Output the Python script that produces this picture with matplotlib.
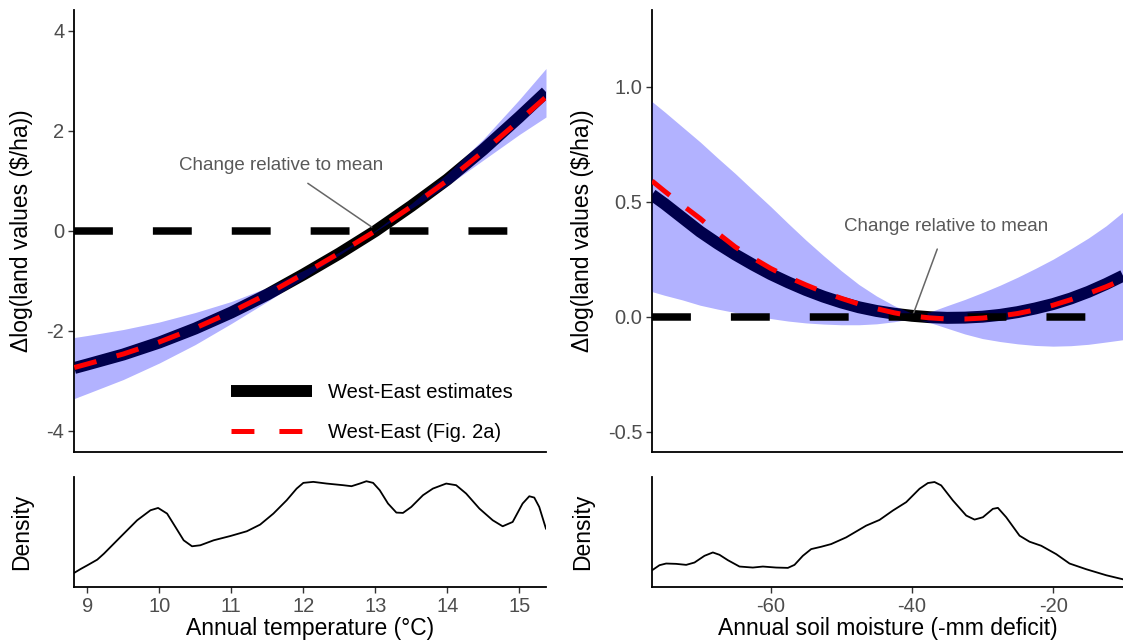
import matplotlib
matplotlib.use("Agg")
import matplotlib.pyplot as plt
from matplotlib.lines import Line2D

plt.rcParams['font.family'] = ['Liberation Sans', 'DejaVu Sans']
plt.rcParams['axes.unicode_minus'] = False
plt.rcParams['lines.scale_dashes'] = False

# ---------------- data ----------------
TEMP_X = [8.82, 9.0, 9.5, 10.0, 10.5, 11.0, 11.5, 12.0, 12.5, 13.0, 13.5, 14.0, 14.5, 15.0, 15.37]
TEMP_EST = [-2.74, -2.67, -2.47, -2.23, -1.95, -1.63, -1.27, -0.87, -0.45, 0.0, 0.5, 1.03, 1.63, 2.28, 2.78]
TEMP_FIG2A = [-2.73, -2.66, -2.46, -2.22, -1.94, -1.62, -1.26, -0.86, -0.44, 0.0, 0.49, 1.01, 1.59, 2.21, 2.68]
TEMP_CI_LO = [-3.35, -3.25, -2.97, -2.64, -2.27, -1.85, -1.41, -0.95, -0.48, -0.01, 0.45, 0.91, 1.42, 1.93, 2.28]
TEMP_CI_HI = [-2.13, -2.09, -1.97, -1.82, -1.63, -1.41, -1.13, -0.79, -0.42, 0.01, 0.55, 1.15, 1.84, 2.63, 3.25]

SOIL_X = [-76.8, -75, -72.5, -70, -67.5, -65, -62.5, -60, -57.5, -55, -52.5, -50, -47.5, -45,
          -42.5, -40, -37.5, -35, -32.5, -30, -27.5, -25, -22.5, -20, -17.5, -15, -12.5, -10.1]
SOIL_EST = [0.53, 0.49, 0.43, 0.37, 0.318, 0.27, 0.226, 0.185, 0.149, 0.116, 0.087, 0.062, 0.041, 0.025,
            0.013, 0.004, -0.002, -0.005, -0.004, 0.0, 0.008, 0.02, 0.036, 0.055, 0.079, 0.108, 0.142, 0.178]
SOIL_FIG2A = [0.59, 0.545, 0.485, 0.427, 0.363, 0.303, 0.255, 0.21, 0.172, 0.138, 0.107, 0.08, 0.055, 0.035,
              0.017, 0.003, -0.005, -0.01, -0.01, -0.006, 0.003, 0.014, 0.03, 0.05, 0.074, 0.101, 0.13, 0.162]
SOIL_CI_HI = [0.935, 0.89, 0.825, 0.76, 0.69, 0.622, 0.55, 0.479, 0.405, 0.333, 0.265, 0.2, 0.14, 0.09,
              0.048, 0.015, 0.02, 0.048, 0.075, 0.105, 0.137, 0.172, 0.21, 0.25, 0.295, 0.342, 0.395, 0.455]
SOIL_CI_LO = [0.109, 0.093, 0.073, 0.05, 0.033, 0.018, 0.003, -0.008, -0.019, -0.027, -0.032, -0.035, -0.035,
              -0.031, -0.022, -0.008, -0.025, -0.05, -0.075, -0.095, -0.108, -0.118, -0.125, -0.128, -0.126,
              -0.12, -0.11, -0.1]

TEMP_DENS_X = [8.815, 8.908, 9.0, 9.138, 9.231, 9.461, 9.692, 9.877, 9.983, 10.108, 10.223, 10.338, 10.454,
               10.569, 10.754, 10.989, 11.215, 11.4, 11.584, 11.769, 11.907, 12.0, 12.138, 12.323, 12.553,
               12.669, 12.784, 12.876, 12.969, 13.061, 13.176, 13.292, 13.384, 13.499, 13.661, 13.799,
               13.984, 14.122, 14.261, 14.445, 14.63, 14.768, 14.907, 15.045, 15.138, 15.207, 15.276, 15.369]
TEMP_DENS_Y = [0.0265, 0.0341, 0.041, 0.0517, 0.0631, 0.0947, 0.1262, 0.1451, 0.1495, 0.1388, 0.1136, 0.0883,
               0.0770, 0.0789, 0.0883, 0.0965, 0.1054, 0.118, 0.1388, 0.1641, 0.1861, 0.1969, 0.1988, 0.1956,
               0.1925, 0.1906, 0.1956, 0.2, 0.1969, 0.183, 0.1578, 0.1407, 0.1401, 0.1514, 0.1735, 0.1861,
               0.1956, 0.1925, 0.1767, 0.1483, 0.1262, 0.1148, 0.123, 0.1578, 0.1716, 0.1691, 0.1514, 0.1104]

SOIL_DENS_X = [-76.78, -75.74, -74.8, -73.38, -71.96, -70.78, -69.37, -68.18, -67.24, -66.06, -64.41, -62.52,
               -61.1, -59.22, -57.56, -56.62, -55.44, -54.26, -52.84, -51.43, -49.3, -46.47, -44.58, -42.69,
               -40.8, -38.91, -37.73, -36.79, -35.85, -34.19, -32.3, -31.12, -29.94, -28.53, -27.82, -26.64,
               -24.75, -23.33, -21.68, -19.56, -17.67, -15.31, -12.47, -10.11]
SOIL_DENS_Y = [0.0050, 0.0065, 0.0070, 0.0069, 0.0066, 0.0073, 0.0093, 0.0103, 0.0096, 0.0080, 0.0061, 0.0058,
               0.0061, 0.0058, 0.0057, 0.0066, 0.0093, 0.0113, 0.0120, 0.0128, 0.0148, 0.0183, 0.0200, 0.0228,
               0.0253, 0.0293, 0.0310, 0.0313, 0.0303, 0.0258, 0.0213, 0.0201, 0.0208, 0.0233, 0.0236, 0.0208,
               0.0153, 0.0135, 0.0123, 0.0098, 0.0070, 0.0053, 0.0035, 0.0023]

TEMP_TICKS = [9, 10, 11, 12, 13, 14, 15]
SOIL_TICKS = [-60, -40, -20]
TEMP_YTICKS = [-4, -2, 0, 2, 4]
SOIL_YTICKS = [-0.5, 0.0, 0.5, 1.0]
SOIL_YTICKLABELS = ['-0.5', '0.0', '0.5', '1.0']

YLAB = 'Δlog(land values (\\$/ha))'
ANNOT = 'Change relative to mean'

# ---------------- layout ----------------
W, H = 1123, 640
fig = plt.figure(figsize=(W / 100, H / 100), dpi=100)


def px_axes(x0, y0, x1, y1):
    return fig.add_axes([x0 / W, 1 - y1 / H, (x1 - x0) / W, (y1 - y0) / H])


ax1 = px_axes(74, 10, 546, 452)
ax2 = px_axes(652, 10, 1123, 452)
ax3 = px_axes(74, 477, 546, 587)
ax4 = px_axes(652, 477, 1123, 587)

TICKC = '#4D4D4D'
BLUE = (0.0, 0.0, 1.0, 0.3)


def style(ax):
    for s in ['top', 'right']:
        ax.spines[s].set_visible(False)
    for s in ['left', 'bottom']:
        ax.spines[s].set_linewidth(1.3)
        ax.spines[s].set_color('black')
    ax.tick_params(axis='both', length=4, width=1.0, color='#333333',
                   labelcolor=TICKC, labelsize=14.5, pad=3)
    ax.set_facecolor('none')


for ax in (ax1, ax2, ax3, ax4):
    style(ax)


def main_panel(ax, x, est, fig2a, lo, hi):
    ax.plot(x, est, color='black', lw=8.6, solid_capstyle='butt', zorder=2)
    ax.fill_between(x, lo, hi, color=BLUE, lw=0, zorder=3)
    ax.axhline(0, color='black', lw=5.4, dashes=(28, 28.8), dash_capstyle='butt', zorder=4)
    ax.plot(x, fig2a, color='red', lw=3.6, dashes=(16.5, 15), dash_capstyle='butt', zorder=5)
    ax.set_xticks([])
    ax.tick_params(axis='x', length=0)


main_panel(ax1, TEMP_X, TEMP_EST, TEMP_FIG2A, TEMP_CI_LO, TEMP_CI_HI)
main_panel(ax2, SOIL_X, SOIL_EST, SOIL_FIG2A, SOIL_CI_LO, SOIL_CI_HI)

ax1.set_xlim(8.815, 15.37)
ax1.set_ylim(-4.42, 4.42)
ax1.set_yticks(TEMP_YTICKS)
ax1.set_yticklabels([str(v) for v in TEMP_YTICKS])

ax2.set_xlim(-76.8, -10.1)
ax2.set_ylim(-0.588, 1.333)
ax2.set_yticks(SOIL_YTICKS)
ax2.set_yticklabels(SOIL_YTICKLABELS)

for ax, lx in ((ax1, -0.087), (ax2, -0.123)):
    ax.set_ylabel(YLAB, fontsize=16.5)
    ax.yaxis.set_label_coords(lx, 0.5)

# annotations
ax1.annotate(ANNOT, xy=(12.95, 0.08), xytext=(11.69, 1.32), ha='center', va='center',
             fontsize=13.5, color='#595959',
             arrowprops=dict(arrowstyle='-', color='#666666', lw=1.1, shrinkA=9, shrinkB=0))
ax2.annotate(ANNOT, xy=(-39.86, 0.007), xytext=(-35.2, 0.394), ha='center', va='center',
             fontsize=13.5, color='#595959',
             arrowprops=dict(arrowstyle='-', color='#666666', lw=1.1, shrinkA=9, shrinkB=0))

# legend
h1 = Line2D([], [], color='black', lw=8.6, solid_capstyle='butt')
h2 = Line2D([], [], color='red', lw=3.6, dashes=(16.5, 18), dash_capstyle='butt')
ax1.legend([h1, h2], ['West-East estimates', 'West-East (Fig. 2a)'], loc='upper left',
           bbox_to_anchor=(0.333, 0.157), frameon=False, fontsize=14.5, handlelength=4.0,
           handletextpad=0.8, labelspacing=1.05, borderpad=0, borderaxespad=0)

# density panels
ax3.plot(TEMP_DENS_X, TEMP_DENS_Y, color='black', lw=1.3, solid_joinstyle='round')
ax3.set_xlim(8.815, 15.37)
ax3.set_ylim(0, 0.208)
ax3.set_xticks(TEMP_TICKS)
ax3.set_yticks([])
ax3.set_xlabel('Annual temperature (°C)', fontsize=16.5, labelpad=1)

ax4.plot(SOIL_DENS_X, SOIL_DENS_Y, color='black', lw=1.3, solid_joinstyle='round')
ax4.set_xlim(-76.8, -10.1)
ax4.set_ylim(0, 0.0328)
ax4.set_xticks(SOIL_TICKS)
ax4.set_yticks([])
ax4.set_xlabel('Annual soil moisture (-mm deficit)', fontsize=16.5, labelpad=1)

for ax, lx in ((ax3, -0.087), (ax4, -0.123)):
    ax.set_ylabel('Density', fontsize=16.5)
    ax.yaxis.set_label_coords(lx, 0.5)

fig.savefig('out.png', dpi=100)
